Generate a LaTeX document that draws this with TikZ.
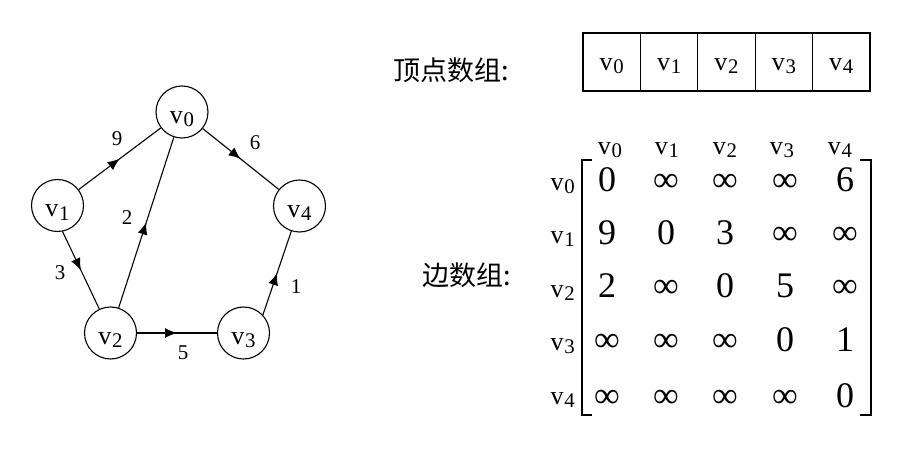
\documentclass[tikz,border=0pt]{standalone}
\usepackage{fontspec}
\setmainfont{Liberation Serif}
\newfontfamily\cjk{Noto Sans CJK SC}
\usepackage{graphicx}
\usetikzlibrary{arrows.meta,decorations.markings}
\newcommand\vx[1]{v\kern0.03em\raisebox{-0.14em}{\scalebox{0.8}{#1}}}
\tikzset{
  vert/.style={circle,draw,line width=1.1pt,minimum size=52pt,inner sep=0pt,
    font=\fontsize{26}{30}\selectfont,text height=26pt,text depth=3.8pt},
  warc/.style={line width=1.1pt,postaction={decorate},
    decoration={markings,mark=at position 0.5 with {\arrow{Latex[length=12pt,width=10pt]}}}},
  wlab/.style={inner sep=0pt,font=\fontsize{21}{24}\selectfont},
  cell/.style={rectangle,draw,line width=1.1pt,minimum width=57.4pt,minimum height=58pt,
    inner sep=0pt,font=\fontsize{26}{30}\selectfont,text height=20pt,text depth=3.8pt},
  ent/.style={inner sep=0pt,anchor=base,font=\fontsize{36}{40}\selectfont},
  vlab/.style={inner sep=0pt,font=\fontsize{26}{30}\selectfont},
  cjklab/.style={inner sep=0pt,anchor=west,font=\cjk\fontsize{27}{30}\selectfont},
  brk/.style={line width=2pt}
}
\begin{document}
\begin{tikzpicture}[x=1pt,y=-1pt]
\path[use as bounding box,fill=white] (0,0) rectangle (914,457);
% graph
\node[vert] (v0) at (182,112) {\vx{0}};
\node[vert] (v1) at (57.5,205.5) {\vx{1}};
\node[vert] (v2) at (110.5,333) {\vx{2}};
\node[vert] (v3) at (243.5,333) {\vx{3}};
\node[vert] (v4) at (299.5,206) {\vx{4}};
\draw[warc] (v1) -- (v0);
\draw[warc] (v0) -- (v4);
\draw[warc] (v1.-79) -- (v2.115);
\draw[warc] (v2) -- (v0);
\draw[warc] (v2) -- (v3);
\draw[warc] (v3.43) -- (v4.-108);
\node[wlab] (w9) at (117,139) {9};
\node[wlab] (w6) at (255,143) {6};
\node[wlab] (w3) at (60,273) {3};
\node[wlab] (w2) at (127,218) {2};
\node[wlab] (w5) at (183,353) {5};
\node[wlab] (w1) at (296,287) {1};
% vertex array
\node[cjklab] (lva) at (393,70) {顶点数组:};
\foreach \i in {0,...,4}{
  \node[cell] (c\i) at ({583+57.4*(\i+0.5)},62) {\vx{\i}};
}
% edge matrix
\node[cjklab] (lea) at (422,275) {边数组:};
\foreach \i/\cx in {0/610,1/667,2/725,3/782,4/840}{
  \node[vlab] (h\i) at (\cx,150) {\vx{\i}};
}
\foreach \i/\ry in {0/186,1/239,2/293,3/346,4/400}{
  \node[vlab,anchor=east] (r\i) at (575,\ry) {\vx{\i}};
}
\foreach \r/\ry/\row in {0/192/{0,∞,∞,∞,6},1/245/{9,0,3,∞,∞},2/298/{2,∞,0,5,∞},3/352/{∞,∞,∞,0,1},4/407/{∞,∞,∞,∞,0}}{
  \foreach \e [count=\c from 0] in \row {
    \pgfmathsetmacro\cx{{607,666,725,785,845}[\c]}
    \node[ent] (m\r\c) at (\cx,\ry) {\e};
  }
}
\coordinate (lbt) at (582,160);
\coordinate (lbb) at (582,415);
\coordinate (rbt) at (871,160);
\coordinate (rbb) at (871,415);
\draw[brk] ([xshift=10pt]lbt) -- (lbt) -- (lbb) -- ([xshift=10pt]lbb);
\draw[brk] ([xshift=-11pt]rbt) -- (rbt) -- (rbb) -- ([xshift=-11pt]rbb);
\end{tikzpicture}
\end{document}
